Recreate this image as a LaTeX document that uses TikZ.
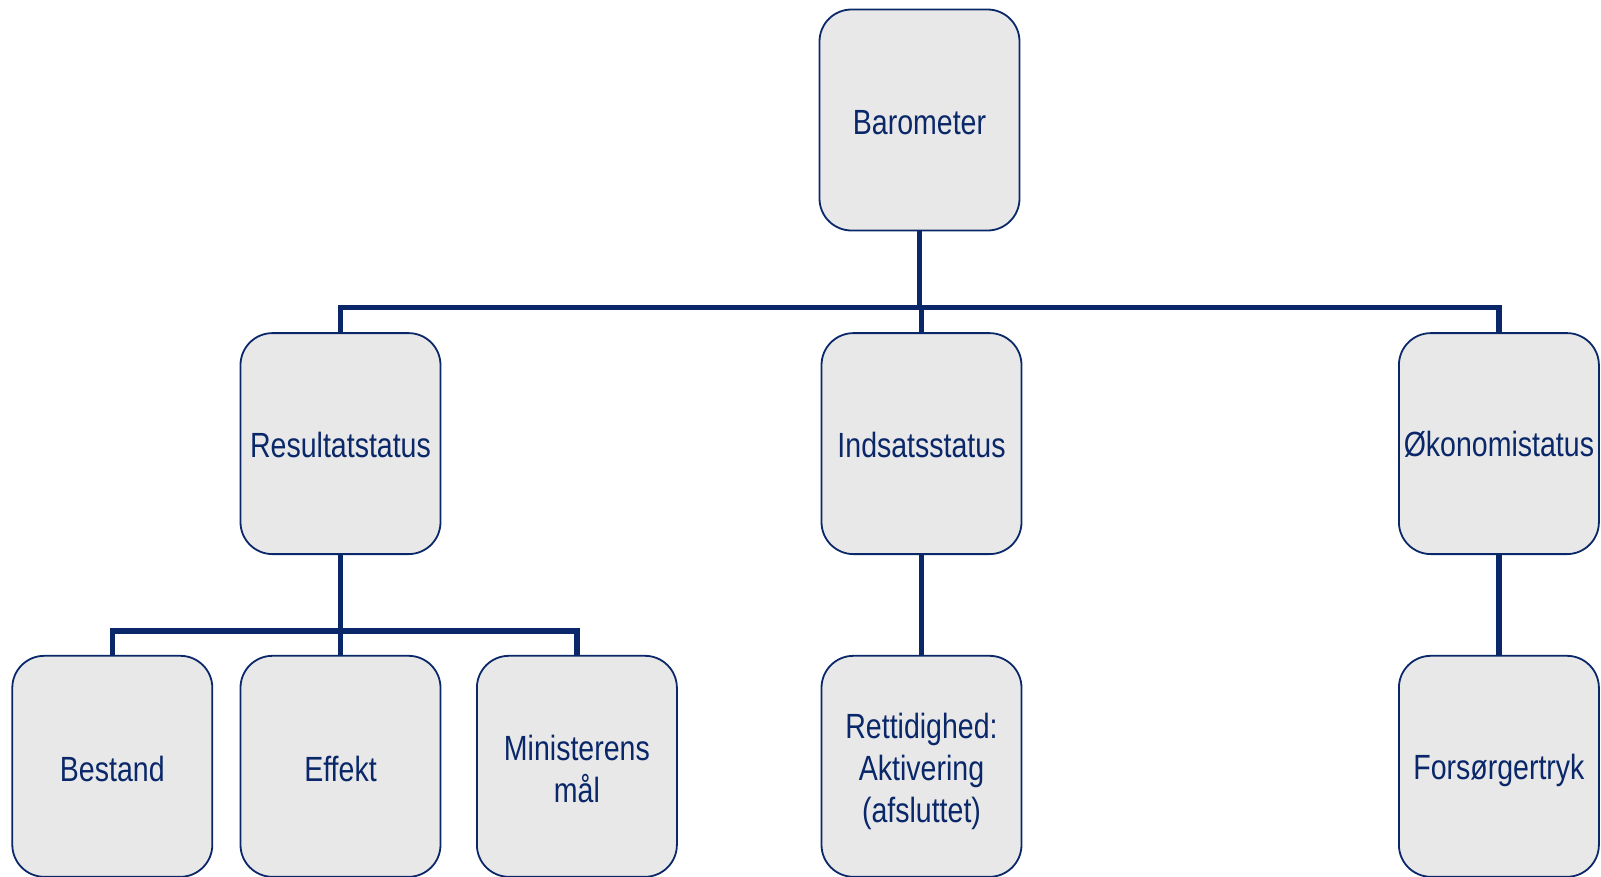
\documentclass[tikz,border=0pt]{standalone}
\usepackage{fontspec}
\newfontfamily\labfont[FakeStretch=0.815]{Liberation Sans}
\definecolor{navy}{RGB}{10,40,105}
\definecolor{boxfill}{RGB}{232,232,232}
\begin{document}
\begin{tikzpicture}[x=1pt,y=-1pt,
  box/.style={draw=navy, line width=1.8pt, fill=boxfill, rounded corners=32pt,
    minimum width=200pt, minimum height=221pt, inner sep=0pt},
  lab/.style={inner sep=0pt, align=center, text=navy,
    font=\labfont\fontsize{35}{42}\selectfont},
  conn/.style={draw=navy, line width=5.5pt}]
\useasboundingbox (0,0) rectangle (1601,876);
\node[box] (baro) at (919.5,120) {};
\node[box] (res) at (340.5,443.6) {};
\node[box] (ind) at (921.5,443.6) {};
\node[box] (oko) at (1498.9,443.6) {};
\node[box] (best) at (112.3,766.3) {};
\node[box] (eff) at (340.5,766.3) {};
\node[box] (min) at (576.9,766.3) {};
\node[box] (ret) at (921.5,766.3) {};
\node[box] (fors) at (1498.9,766.3) {};
\node[lab] (tbaro) at ([yshift=-2.5pt]baro.center) {Barometer};
\node[lab] (tres) at ([yshift=-1pt]res.center) {Resultatstatus};
\node[lab] (tind) at ([yshift=-1pt]ind.center) {Indsatsstatus};
\node[lab] (toko) at ([yshift=-1pt]oko.center) {Økonomistatus};
\node[lab] (tbest) at ([yshift=-2.5pt]best.center) {Bestand};
\node[lab] (teff) at ([yshift=-2.5pt]eff.center) {Effekt};
\node[lab] (tmin) at ([yshift=-2.5pt]min.center) {Ministerens\\mål};
\node[lab] (tret) at ([yshift=-5pt]ret.center) {Rettidighed:\\Aktivering\\(afsluttet)};
\node[lab] (tfors) at ([yshift=-4pt]fors.center) {Forsørgertryk};
\coordinate (bar1) at (919.5,307.5);
\coordinate (bar2) at (340.5,631);
\draw[conn] (baro.south) -- (bar1);
\draw[conn] (res.north) -- (res.north |- bar1) -- (oko.north |- bar1) -- (oko.north);
\draw[conn] (ind.north) -- (ind.north |- bar1);
\draw[conn] (res.south) -- (bar2);
\draw[conn] (best.north) -- (best.north |- bar2) -- (min.north |- bar2) -- (min.north);
\draw[conn] (eff.north) -- (eff.north |- bar2);
\draw[conn] (ind.south) -- (ret.north);
\draw[conn] (oko.south) -- (fors.north);
\end{tikzpicture}
\end{document}
